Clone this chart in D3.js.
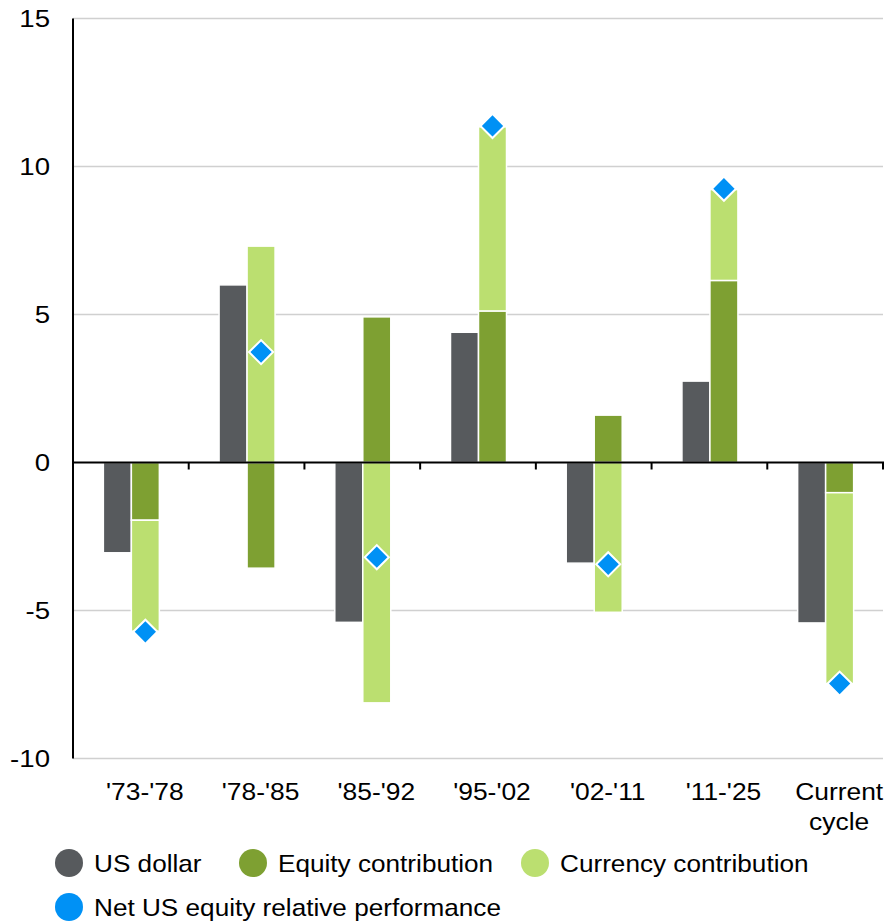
<!DOCTYPE html>
<html>
<head>
<meta charset="utf-8">
<script src="https://cdn.jsdelivr.net/npm/d3@7"></script>
<style>
    body { margin: 0; background: #fff; }
    svg text { font-family: Arial, 'Liberation Sans', sans-serif; fill: #000; }
</style>
</head>
<body>
<svg id="chart" width="888" height="923"></svg>
<script>
let categories = ["'73-'78", "'78-'85", "'85-'92", "'95-'02", "'02-'11", "'11-'25", 'Current cycle']
let us_dollar = [-3.05, 6.0, -5.4, 4.4, -3.4, 2.75, -5.42]
let equity = [-1.95, -3.57, 4.92, 5.12, 1.6, 6.15, -1.02]
let currency = [-3.75, 7.31, -8.12, 6.22, -5.06, 3.07, -6.45]
let net_perf = [-5.72, 3.73, -3.2, 11.37, -3.44, 9.25, -7.47]
let y_ticks = [-10, -5, 0, 5, 10, 15]

let legend_items = [
    {name: 'US dollar', color: '#575a5d'},
    {name: 'Equity contribution', color: '#7ea032'},
    {name: 'Currency contribution', color: '#bbdf70'},
    {name: 'Net US equity relative performance', color: '#0091f5'}
]

let colors = {
    dollar: '#575a5d',
    equity: '#7ea032',
    currency: '#bbdf70',
    net: '#0091f5',
    grid: '#d0d0d0'
}

let pad = {'l': 73, 'r': 5, 't': 18.5, 'b': 164}
let width = 888
let height = 923
let font_size = 24

let svg = d3.select('#chart')

let x = d3.scaleBand()
    .domain(categories)
    .range([pad.l, width - pad.r])

let inner = d3.scaleBand()
    .domain(['dollar', 'stack'])
    .range([-27.5, 28.5])

let y = d3.scaleLinear()
    .domain([-10, 15])
    .range([height - pad.b - 0.5, pad.t])

// text in the reference is a bit wider than plain Arial
function stretched_text(g, tx, ty, sx, anchor, str) {
    return g.append('text')
        .attr('transform', `translate(${tx},${ty}) scale(${sx},1)`)
        .attr('text-anchor', anchor)
        .style('font-size', font_size + 'px')
        .text(str)
}

// grid lines
svg.append('g')
    .selectAll('line')
    .data(y_ticks.filter(d => d !== 0))
    .enter()
    .append('line')
    .attr('x1', pad.l)
    .attr('x2', width - pad.r)
    .attr('y1', d => y(d))
    .attr('y2', d => y(d))
    .style('stroke', colors.grid)
    .style('stroke-width', 1.3)

// y labels
let y_labels = svg.append('g')
y_ticks.forEach(t => {
    stretched_text(y_labels, 50, y(t) + 8.5, 1.15, 'end', t)
})

let rows = categories.map((c, i) => ({
    cat: c,
    dollar: us_dollar[i],
    equity: equity[i],
    currency: currency[i],
    net: net_perf[i]
}))

// US dollar bars
svg.append('g')
    .selectAll('rect')
    .data(rows)
    .enter()
    .append('rect')
    .attr('x', d => x(d.cat) + x.bandwidth() / 2 + inner('dollar'))
    .attr('width', inner.bandwidth())
    .attr('y', d => y(Math.max(0, d.dollar)))
    .attr('height', d => Math.abs(y(d.dollar) - y(0)))
    .style('fill', colors.dollar)
    .style('stroke', '#fff')
    .style('stroke-width', 1.5)

// stacked contributions
let stack = d3.stack()
    .keys(['equity', 'currency'])
    .offset(d3.stackOffsetDiverging)

let layers = stack(rows)

svg.append('g')
    .selectAll('g')
    .data(layers)
    .enter()
    .append('g')
    .style('fill', d => colors[d.key])
    .selectAll('rect')
    .data(d => d)
    .enter()
    .append('rect')
    .attr('x', d => x(d.data.cat) + x.bandwidth() / 2 + inner('stack'))
    .attr('width', inner.bandwidth())
    .attr('y', d => y(Math.max(d[0], d[1])))
    .attr('height', d => Math.abs(y(d[0]) - y(d[1])))
    .style('stroke', '#fff')
    .style('stroke-width', 1.5)

// axes
svg.append('line')
    .attr('x1', pad.l)
    .attr('x2', pad.l)
    .attr('y1', y(15))
    .attr('y2', y(-10))
    .style('stroke', '#000')
    .style('stroke-width', 2)

let x_axis = svg.append('g')
x_axis.append('line')
    .attr('x1', pad.l)
    .attr('x2', width - pad.r + 1)
    .attr('y1', y(0))
    .attr('y2', y(0))
    .style('stroke', '#000')
    .style('stroke-width', 2)

let bounds = categories.map(c => x(c) + x.bandwidth())
x_axis.selectAll('line.tick')
    .data(bounds)
    .enter()
    .append('line')
    .classed('tick', true)
    .attr('x1', d => d)
    .attr('x2', d => d)
    .attr('y1', y(0))
    .attr('y2', y(0) + 7)
    .style('stroke', '#000')
    .style('stroke-width', 2)

// net performance diamonds
let diamond = d3.symbol().type(d3.symbolSquare).size(290)
svg.append('g')
    .selectAll('path')
    .data(rows)
    .enter()
    .append('path')
    .attr('d', diamond)
    .attr('transform', d => `translate(${x(d.cat) + x.bandwidth() / 2 + inner('stack') + inner.bandwidth() / 2},${y(d.net)}) rotate(45)`)
    .style('fill', colors.net)
    .style('stroke', '#fff')
    .style('stroke-width', 2)

// category labels
let x_labels = svg.append('g')
categories.forEach(c => {
    let cx = Math.min(x(c) + x.bandwidth() / 2 + 14, 843)
    let lines = c === 'Current cycle' ? ['Current', 'cycle'] : [c]
    lines.forEach((l, i) => stretched_text(x_labels, cx, 800 + i * 30, 1.1, 'middle', l))
})

// legend
let legend_pos = [
    {cx: 69, ty: 863},
    {cx: 253, ty: 863},
    {cx: 535, ty: 863},
    {cx: 69, ty: 907}
]

let legend = svg.append('g')
legend_items.forEach((d, i) => {
    let p = legend_pos[i]
    legend.append('circle')
        .attr('cx', p.cx)
        .attr('cy', p.ty)
        .attr('r', 14)
        .style('fill', d.color)
    stretched_text(legend, p.cx + 25, p.ty + 8.5, 1.09, 'start', d.name)
})
</script>
</body>
</html>
